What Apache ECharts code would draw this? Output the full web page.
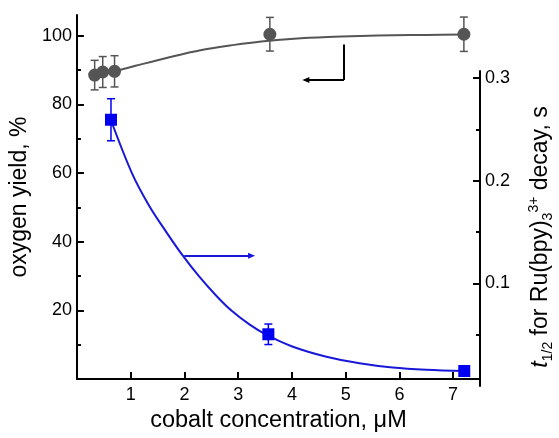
<!DOCTYPE html>
<html><head><meta charset="utf-8">
<script src="https://cdn.jsdelivr.net/npm/echarts@6/dist/echarts.min.js"></script>
<style>html,body{margin:0;padding:0;background:#fff}#c{width:559px;height:438px}</style>
</head><body><div id="c"></div>
<script>
// ---- data ----
const xTickValues = [1, 2, 3, 4, 5, 6, 7];
const leftTickValues = [0, 20, 40, 60, 80, 100];
const leftLabelValues = [20, 40, 60, 80, 100];
const leftMinorValues = [10, 30, 50, 70, 90];
const rightTickValues = [0.1, 0.2, 0.3];
const rightMinorValues = [0.05, 0.15, 0.25];

// oxygen yield (left axis)
const yieldX = [0.33, 0.48, 0.70, 3.59, 7.2];
const yieldY = [88.5, 89.4, 89.6, 100.4, 100.4];
const yieldErr = [4.3, 4.5, 4.55, 4.9, 5.0];
const yieldFitX = [0.70, 1.09, 1.72, 2.32, 2.93, 3.43, 4.04, 4.67, 5.28, 5.89, 6.51, 7.2];
const yieldFitY = [89.6, 91.2, 93.7, 95.8, 97.3, 98.3, 99.1, 99.6, 99.9, 100.1, 100.2, 100.3];

// t1/2 (right axis)
const halfX = [0.70, 3.60, 7.21];
const halfY = [0.2595, 0.0504, 0.0146];
const halfErr = [0.0205, 0.010, 0.0];
const halfFitX = [0.70, 1.09, 1.40, 1.72, 2.01, 2.32, 2.64, 2.93, 3.25, 3.56, 4.04, 4.67, 5.28, 5.89, 6.51, 7.21];
const halfFitY = [0.259, 0.207, 0.176, 0.150, 0.128, 0.107, 0.088, 0.073, 0.060, 0.050, 0.0385, 0.0285, 0.0222, 0.0180, 0.0158, 0.0146];

// annotation arrows (data coordinates)
const leftArrowX = [4.97, 4.26];
const leftArrowY = [97.4, 87.1];
const rightArrowX = [2.05, 3.29];
const rightArrowY = 0.127;

const FONT = 'Liberation Sans, Arial, sans-serif';
const GRAY = '#555555';
const BLUE = '#0000f0';
const BLUE_LINE = '#1818d8';

function pairs(xs, ys) { return xs.map((x, i) => [x, ys[i]]); }
function errData(xs, ys, es) { return xs.map((x, i) => [x, ys[i] - es[i], ys[i] + es[i]]); }
function errRender(color, cap) {
  return function (params, api) {
    const x = api.value(0), lo = api.value(1), hi = api.value(2);
    if (hi - lo <= 0) return null;
    const a = api.coord([x, hi]), b = api.coord([x, lo]);
    const s = { stroke: color, lineWidth: 1.5 };
    return { type: 'group', children: [
      { type: 'line', shape: { x1: a[0], y1: a[1], x2: b[0], y2: b[1] }, style: s },
      { type: 'line', shape: { x1: a[0] - cap, y1: a[1], x2: a[0] + cap, y2: a[1] }, style: s },
      { type: 'line', shape: { x1: b[0] - cap, y1: b[1], x2: b[0] + cap, y2: b[1] }, style: s }
    ] };
  };
}

const axisLineStyle = { color: '#000', width: 2 };
const labelStyle = { color: '#000', fontSize: 18, fontFamily: FONT };

const option = {
  animation: false,
  backgroundColor: '#fff',
  grid: [
    { left: 73, right: 79, top: 15, bottom: 52 },
    { left: 73, right: 79, top: 71, bottom: 52 }
  ],
  xAxis: [
    { gridIndex: 0, type: 'value', min: 0, max: 7.5,
      axisLine: { onZero: false, lineStyle: axisLineStyle },
      axisTick: { inside: true, length: 7, customValues: xTickValues, lineStyle: { color: '#000', width: 2 } },
      axisLabel: { customValues: xTickValues, margin: 7, ...labelStyle },
      splitLine: { show: false },
      name: 'cobalt concentration, μM', nameLocation: 'middle', nameGap: 28,
      nameTextStyle: { color: '#000', fontSize: 23.5, fontFamily: FONT } },
    { gridIndex: 1, type: 'value', min: 0, max: 7.5, show: false }
  ],
  yAxis: [
    { gridIndex: 0, type: 'value', min: 0, max: 106, position: 'left',
      axisLine: { show: true, onZero: false, lineStyle: axisLineStyle },
      axisTick: { show: true, inside: true, length: 7, customValues: leftTickValues, lineStyle: { color: '#000', width: 2 } },
      axisLabel: { customValues: leftLabelValues, margin: 5, ...labelStyle },
      splitLine: { show: false },
      name: 'oxygen yield, %', nameLocation: 'middle', nameGap: 36, nameRotate: 90,
      nameTextStyle: { color: '#000', fontSize: 23, fontFamily: FONT } },
    { gridIndex: 0, type: 'value', min: 0, max: 106, position: 'left',
      axisLine: { show: false, onZero: false },
      axisTick: { show: true, inside: true, length: 4, customValues: leftMinorValues, lineStyle: { color: '#000', width: 2 } },
      axisLabel: { show: false }, splitLine: { show: false } },
    { gridIndex: 1, type: 'value', min: 0, max: 0.307, position: 'right',
      axisLine: { show: true, onZero: false, lineStyle: axisLineStyle },
      axisTick: { show: true, inside: true, length: 7, customValues: rightTickValues, lineStyle: { color: '#000', width: 2 } },
      axisLabel: { customValues: rightTickValues, margin: 5, ...labelStyle },
      splitLine: { show: false } },
    { gridIndex: 1, type: 'value', min: 0, max: 0.307, position: 'right',
      axisLine: { show: false, onZero: false },
      axisTick: { show: true, inside: true, length: 4, customValues: rightMinorValues, lineStyle: { color: '#000', width: 2 } },
      axisLabel: { show: false }, splitLine: { show: false } }
  ],
  graphic: [{
    type: 'text', x: 541, y: 237, rotation: Math.PI / 2, silent: true,
    style: {
      text: '{i|t}{sub|1/2} for Ru(bpy){sub|3}{sup|3+} decay, s',
      fill: '#000', fontSize: 23, fontFamily: FONT, lineHeight: 28,
      align: 'center', verticalAlign: 'middle',
      rich: {
        i: { fontStyle: 'italic', fontSize: 23, fontFamily: FONT, lineHeight: 28 },
        sub: { fontSize: 14, fontFamily: FONT, verticalAlign: 'bottom', lineHeight: 10 },
        sup: { fontSize: 14, fontFamily: FONT, verticalAlign: 'top', lineHeight: 10 }
      }
    }
  }],
  series: [
    { type: 'line', xAxisIndex: 0, yAxisIndex: 0, data: pairs(yieldFitX, yieldFitY),
      smooth: 0.35, showSymbol: false, symbol: 'none',
      lineStyle: { color: GRAY, width: 2 }, z: 2,
      markLine: { silent: true, symbol: ['none', 'none'], label: { show: false },
        lineStyle: { color: '#000', width: 2, type: 'solid' }, emphasis: { disabled: true },
        data: [
          [{ coord: [leftArrowX[0], leftArrowY[0]] }, { coord: [leftArrowX[0], leftArrowY[1]] }],
          [{ coord: [leftArrowX[0], leftArrowY[1]] }, { coord: [leftArrowX[1], leftArrowY[1]], symbol: 'triangle', symbolSize: [6, 7] }]
        ] } },
    { type: 'custom', xAxisIndex: 0, yAxisIndex: 0, data: errData(yieldX, yieldY, yieldErr),
      encode: { x: 0, y: [1, 2] }, renderItem: errRender(GRAY, 4), z: 3 },
    { type: 'scatter', xAxisIndex: 0, yAxisIndex: 0, data: pairs(yieldX, yieldY),
      symbol: 'circle', symbolSize: 13, itemStyle: { color: GRAY, opacity: 1 }, z: 4 },
    { type: 'line', xAxisIndex: 1, yAxisIndex: 2, data: pairs(halfFitX, halfFitY),
      smooth: 0.35, showSymbol: false, symbol: 'none',
      lineStyle: { color: BLUE_LINE, width: 2 }, z: 2,
      markLine: { silent: true, symbol: ['none', 'triangle'], symbolSize: [6, 7], label: { show: false },
        lineStyle: { color: BLUE_LINE, width: 2, type: 'solid' }, emphasis: { disabled: true },
        data: [[{ coord: [rightArrowX[0], rightArrowY] }, { coord: [rightArrowX[1], rightArrowY] }]] } },
    { type: 'custom', xAxisIndex: 1, yAxisIndex: 2, data: errData(halfX, halfY, halfErr),
      encode: { x: 0, y: [1, 2] }, renderItem: errRender(BLUE, 4), z: 3 },
    { type: 'scatter', xAxisIndex: 1, yAxisIndex: 2, data: pairs(halfX, halfY),
      symbol: 'rect', symbolSize: 12, itemStyle: { color: BLUE, opacity: 1 }, z: 4 }
  ]
};
const chart = echarts.init(document.getElementById('c'), null, { renderer: 'canvas' });
chart.setOption(option);
</script></body></html>
